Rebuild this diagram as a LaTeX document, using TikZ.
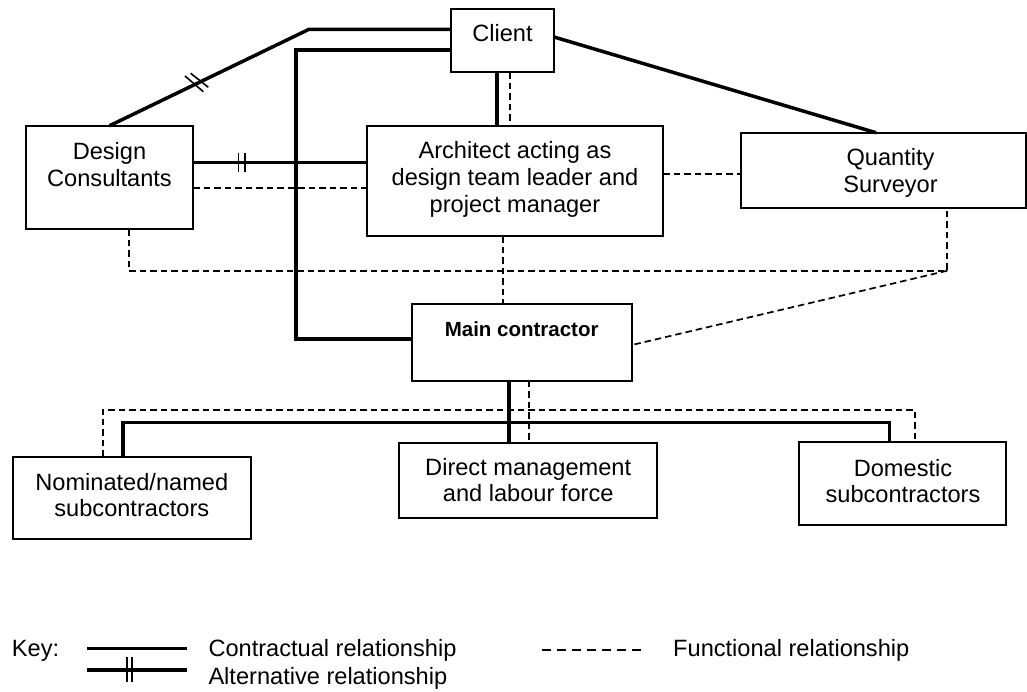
\documentclass[tikz,border=0pt]{standalone}
\usepackage{fontspec}
\setmainfont{Liberation Sans}
\begin{document}
\begin{tikzpicture}[x=1pt,y=-1pt,
  box/.style={draw, line width=1.8pt, inner sep=0pt, outer sep=0pt},
  contract/.style={line width=3.5pt},
  func/.style={line width=1.7pt, dash pattern=on 6.5pt off 4pt},
  keyfunc/.style={line width=1.5pt, dash pattern=on 9pt off 6pt},
  tick/.style={line width=1.6pt},
  txt/.style={anchor=base, inner sep=0pt, font=\fontsize{23.6pt}{27pt}\selectfont},
  ltxt/.style={txt, anchor=base west},
  btxt/.style={anchor=base, inner sep=0pt, font=\fontsize{20.5pt}{24pt}\selectfont\bfseries}]
\useasboundingbox (0,0) rectangle (1027,691);

% ---- boxes ----
\node[box, minimum width=103pt,   minimum height=63pt]   (client) at (502.5,40.5) {};
\node[box, minimum width=167.6pt, minimum height=103.3pt] (dc)    at (109.5,177.4) {};
\node[box, minimum width=296.3pt, minimum height=110pt]  (arch)   at (514.9,181) {};
\node[box, minimum width=285.3pt, minimum height=75.6pt] (qs)     at (883.4,170.5) {};
\node[box, minimum width=220pt,   minimum height=76.4pt] (mc)     at (521.85,342.5) {};
\node[box, minimum width=238.3pt, minimum height=82.3pt] (nom)    at (131.85,497.9) {};
\node[box, minimum width=258.3pt, minimum height=75pt]   (dm)     at (528.15,480.2) {};
\node[box, minimum width=207pt,   minimum height=82.7pt] (dom)    at (902.2,483.7) {};

% ---- box texts ----
\node[txt] (client-t) at (502.5,41.7) {Client};
\node[txt] (dc-t1) at (109.5,159.3) {Design};
\node[txt] (dc-t2) at (109.5,186) {Consultants};
\node[txt] (arch-t1) at (515,158.3) {Architect acting as};
\node[txt] (arch-t2) at (515,185.7) {design team leader and};
\node[txt] (arch-t3) at (515,212.3) {project manager};
\node[txt] (qs-t1) at (890.5,165.7) {Quantity};
\node[txt] (qs-t2) at (890.5,192.3) {Surveyor};
\node[btxt] (mc-t) at (521.7,336) {Main contractor};
\node[txt] (nom-t1) at (131.8,490.7) {Nominated/named};
\node[txt] (nom-t2) at (131.8,516.7) {subcontractors};
\node[txt] (dm-t1) at (528.2,475) {Direct management};
\node[txt] (dm-t2) at (528.2,501.7) {and labour force};
\node[txt] (dom-t1) at (903,476) {Domestic};
\node[txt] (dom-t2) at (903,502.7) {subcontractors};

% ---- corner points ----
\coordinate (bendA) at (309,29.3);
\coordinate (bendB) at (296,339);
\coordinate (qsdrop) at (947.3,270.7);
\coordinate (busR) at (889.3,422.7);
\coordinate (dashR) at (915.3,410);

% ---- contractual relationships ----
\draw[contract] ([yshift=-9.5pt]client.west) -| (bendB) -- (bendB -| mc.west);
\draw[contract] ([xshift=-5.5pt]client.south) -- ([xshift=-5.5pt]client.south |- arch.north);
\draw[contract] ([yshift=3.5pt]client.east) -- ([xshift=-7.4pt]qs.north);
\draw[contract] ([xshift=-12.85pt]mc.south) -- ([xshift=-12.85pt]mc.south |- dm.north);
\draw[contract] ([xshift=-8.85pt]nom.north) |- (busR) -- (busR |- dom.north);

% ---- alternative relationships ----
\draw[contract] ([yshift=11.2pt]client.west) -- (bendA) -- (dc.north);
\draw[tick] (185,76) -- (203.3,91.7);
\draw[tick] (190.7,73.3) -- (208.3,87.3);
\draw[contract] ([yshift=15.1pt]dc.east) -- ([yshift=15.1pt]dc.east -| arch.west);
\draw[tick] (238.3,152.7) -- (238.3,171.7);
\draw[tick] (245,152.7) -- (245,171.7);

% ---- functional relationships ----
\draw[func] ([xshift=7.5pt]client.south) -- ([xshift=7.5pt]client.south |- arch.north);
\draw[func] ([yshift=-10.3pt]dc.east) -- ([yshift=-10.3pt]dc.east -| arch.west);
\draw[func] ([yshift=7pt]arch.east) -- ([yshift=7pt]arch.east -| qs.west);
\draw[func] ([xshift=19.5pt]dc.south) |- (qsdrop) -- (qsdrop |- qs.south);
\draw[func] (qsdrop) -- ([yshift=-2.5pt]mc.east);
\draw[func] ([xshift=-11.6pt]arch.south) -- ([xshift=-11.6pt]arch.south |- mc.north);
\draw[func] ([xshift=7.45pt]mc.south) -- ([xshift=7.45pt]mc.south |- dm.north);
\draw[func] ([xshift=-29.15pt]nom.north) |- (dashR) -- (dashR |- dom.north);

% ---- key ----
\node[ltxt] (key-t) at (11.7,656) {Key:};
\coordinate (kc1) at (87.3,648.3);
\coordinate (kc2) at (186.7,648.3);
\coordinate (ka1) at (87.3,670);
\coordinate (ka2) at (186.7,670);
\coordinate (kf1) at (542,650);
\coordinate (kf2) at (645,650);
\draw[contract] (kc1) -- (kc2);
\draw[contract] (ka1) -- (ka2);
\draw[tick] (126.7,656.7) -- (126.7,681.7);
\draw[tick] (131.7,656.7) -- (131.7,681.7);
\draw[keyfunc] (kf1) -- (kf2);
\node[ltxt] (key-c) at (208.3,656) {Contractual relationship};
\node[ltxt] (key-a) at (208.3,684) {Alternative relationship};
\node[ltxt] (key-f) at (673,656) {Functional relationship};
\end{tikzpicture}
\end{document}
